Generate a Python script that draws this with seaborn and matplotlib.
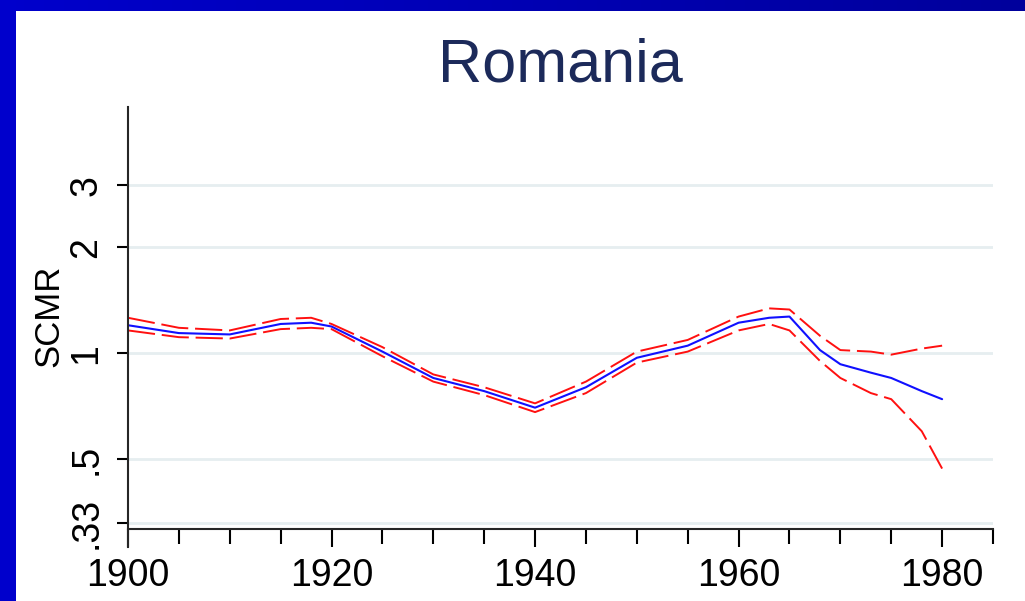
import matplotlib.pyplot as plt
import seaborn as sns
import numpy as np

# ---------- DATA ----------
years = [1900, 1905, 1910, 1915, 1918, 1920, 1925, 1930, 1935, 1940, 1945,
         1950, 1955, 1960, 1963, 1965, 1968, 1970, 1973, 1975, 1978, 1980]
scmr = [1.20, 1.14, 1.13, 1.21, 1.22, 1.19, 1.01, 0.85, 0.78, 0.70, 0.80,
        0.97, 1.05, 1.22, 1.26, 1.27, 1.02, 0.93, 0.88, 0.85, 0.78, 0.74]
upper = [1.26, 1.18, 1.16, 1.25, 1.26, 1.21, 1.04, 0.87, 0.80, 0.72, 0.83,
         1.01, 1.09, 1.27, 1.34, 1.33, 1.12, 1.02, 1.01, 0.99, 1.03, 1.05]
lower = [1.16, 1.11, 1.10, 1.17, 1.18, 1.17, 0.98, 0.83, 0.76, 0.68, 0.77,
         0.94, 1.01, 1.16, 1.21, 1.16, 0.95, 0.85, 0.77, 0.74, 0.60, 0.47]

ytick_vals = [0.33, 0.5, 1, 2, 3]
ytick_labels = [".33", ".5", "1", "2", "3"]
xtick_major = [1900, 1920, 1940, 1960, 1980]
xtick_minor = list(range(1905, 1990, 5))

# ---------- STYLE ----------
sns.set_style("ticks")
plt.rcParams["font.family"] = ["Liberation Sans", "DejaVu Sans"]
plt.rcParams["text.color"] = "black"
plt.rcParams["axes.labelcolor"] = "black"
plt.rcParams["xtick.color"] = "black"
plt.rcParams["ytick.color"] = "black"

fig = plt.figure(figsize=(10.25, 6.01), dpi=100)
fig.patch.set_facecolor("white")

# blue frame (top bar with gradient, left bar)
top = fig.add_axes([0, 1 - 11 / 601, 1, 11 / 601])
grad = np.linspace(0, 1, 256).reshape(1, -1)
top.imshow(grad, aspect="auto", cmap=sns.blend_palette(["#0000cc", "#00009c"], as_cmap=True))
top.axis("off")
left = fig.add_axes([0, 0, 16 / 1025, 1])
left.set_facecolor("#0000cc")
left.set_xticks([])
left.set_yticks([])
for s in left.spines.values():
    s.set_visible(False)

ax = fig.add_axes([128 / 1025, 1 - 529 / 601, (993 - 128) / 1025, (529 - 107) / 601])
ax.set_yscale("log")

for v in ytick_vals:
    ax.axhline(v, color="#e6eef0", lw=2, zorder=0)

sns.lineplot(x=years, y=upper, ax=ax, color="#ff1010", lw=1.4, ls=(0, (14, 3.5)))
sns.lineplot(x=years, y=lower, ax=ax, color="#ff1010", lw=1.4, ls=(0, (14, 3.5)))
sns.lineplot(x=years, y=scmr, ax=ax, color="#1010ff", lw=1.5)

ax.set_xlim(1900, 1985)
ax.set_ylim(0.3166, 5.0)

ax.set_yticks(ytick_vals)
ax.set_yticklabels(ytick_labels, rotation=90, va="center", fontsize=27)
ax.yaxis.set_minor_locator(plt.NullLocator())
ax.set_xticks(xtick_major)
ax.set_xticklabels([str(y) for y in xtick_major], fontsize=27)
ax.set_xticks(xtick_minor, minor=True)

ax.tick_params(axis="y", length=8, width=1.5, pad=9, colors="black")
ax.tick_params(axis="x", which="major", length=13, width=1.5, pad=8, colors="black")
ax.tick_params(axis="x", which="minor", length=11, width=1.5, colors="black")

ax.set_ylabel("SCMR", fontsize=25, color="black")
ax.yaxis.set_label_coords(-0.072, 0.505)

sns.despine(ax=ax)
ax.spines["left"].set_linewidth(1.5)
ax.spines["bottom"].set_linewidth(1.5)
ax.spines["left"].set_bounds(0.281, 5.0)

ax.set_title("Romania", fontsize=44, color="#1c2a5a", pad=18)

fig.savefig("out.png", dpi=100)
